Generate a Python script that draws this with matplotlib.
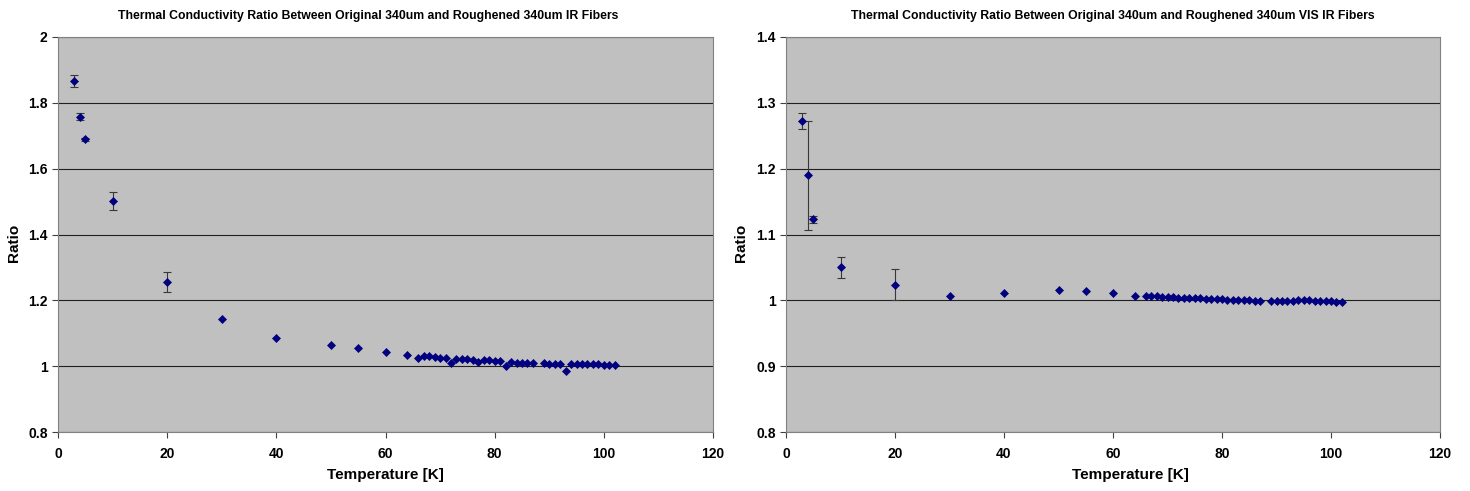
from matplotlib import pyplot as plt

plt.rcParams['font.family'] = ['Liberation Sans', 'DejaVu Sans']
plt.rcParams['font.weight'] = 'bold'

temperaturas = [3, 4, 5, 10, 20, 30, 40, 50, 55, 60, 64,
                66, 67, 68, 69, 70, 71, 72, 73, 74, 75, 76, 77, 78, 79, 80,
                81, 82, 83, 84, 85, 86, 87,
                89, 90, 91, 92, 93, 94, 95, 96, 97, 98, 99, 100, 101, 102]

# original 340um vs roughened 340um IR
ratio_ir = [1.866, 1.758, 1.689, 1.501, 1.256, 1.142, 1.086, 1.063, 1.055, 1.0435, 1.035,
            1.026, 1.031, 1.030, 1.028, 1.026, 1.025, 1.009, 1.022, 1.021, 1.021, 1.020,
            1.012, 1.020, 1.019, 1.017, 1.015, 1.000, 1.012, 1.011, 1.011, 1.011, 1.011,
            1.009, 1.008, 1.008, 1.007, 0.986, 1.007, 1.008, 1.007, 1.007, 1.006, 1.006,
            1.005, 1.004, 1.004]
error_ir = [0.019, 0.011, 0.004, 0.027, 0.030] + [0] * 42

# original 340um vs roughened 340um VIS IR
ratio_vis = [1.272, 1.190, 1.123, 1.050, 1.024, 1.006, 1.011, 1.016, 1.014, 1.011, 1.007,
             1.007, 1.0065, 1.006, 1.0055, 1.005, 1.0045, 1.004, 1.004, 1.0035, 1.003, 1.003,
             1.0025, 1.002, 1.002, 1.0015, 1.001, 1.000, 1.000, 1.000, 1.000, 0.9995, 0.9995,
             0.9995, 0.999, 0.999, 0.9985, 0.999, 1.001, 1.0005, 1.000, 0.9995, 0.999, 0.999,
             0.9985, 0.998, 0.998]
error_vis = [0.012, 0.083, 0.005, 0.016, 0.023] + [0] * 42

fig = plt.figure(figsize=(14.7, 4.91), dpi=100)


def panel(rect, ratios, errores, ylim, paso, titulo, xtitulo, xratio):
    ax = fig.add_axes(rect)
    ax.set_facecolor('#c0c0c0')
    ax.set_axisbelow(True)
    ax.yaxis.grid(True, color='#202020', linewidth=0.8)
    # error bars only where there is an error
    tx = [t for t, e in zip(temperaturas, errores) if e > 0]
    ry = [r for r, e in zip(ratios, errores) if e > 0]
    ey = [e for e in errores if e > 0]
    ax.errorbar(tx, ry, yerr=ey, fmt='none', ecolor='#383838',
                elinewidth=0.8, capsize=3, capthick=0.8)
    ax.plot(temperaturas, ratios, 'D', color='#000080', markersize=3.8,
            markeredgewidth=0.5)
    ax.set_xlim(0, 120)
    ax.set_ylim(*ylim)
    ax.set_xticks(range(0, 121, 20))
    yt = []
    v = ylim[0]
    while v <= ylim[1] + 1e-9:
        yt.append(round(v, 2))
        v += paso
    ax.set_yticks(yt)
    ax.set_yticklabels(['%g' % t for t in yt])
    for s in ax.spines.values():
        s.set_color('#808080')
    ax.tick_params(direction='out', length=4, color='#404040', labelsize=10,
                   width=0.8)
    ax.tick_params(axis='x', pad=7)
    fig.text(xtitulo, 1 - 16 / 491, titulo, ha='center', va='center',
             fontsize=8.8, fontweight='bold')
    fig.text(xtitulo + 0.012, 1 - 475 / 491, 'Temperature [K]', ha='center',
             va='center', fontsize=11, fontweight='bold')
    fig.text(xratio, 1 - 243 / 491, 'Ratio', ha='center', va='center',
             rotation=90, fontsize=11, fontweight='bold')
    return ax


panel([58 / 1470, 59 / 491, 655 / 1470, 395 / 491], ratio_ir, error_ir,
      (0.8, 2.0), 0.2,
      'Thermal Conductivity Ratio Between Original 340um and Roughened 340um IR Fibers',
      368 / 1470, 14 / 1470)
panel([786 / 1470, 59 / 491, 654 / 1470, 395 / 491], ratio_vis, error_vis,
      (0.8, 1.4), 0.1,
      'Thermal Conductivity Ratio Between Original 340um and Roughened 340um VIS IR Fibers',
      1113 / 1470, 741 / 1470)

plt.savefig('out.png', dpi=100)
